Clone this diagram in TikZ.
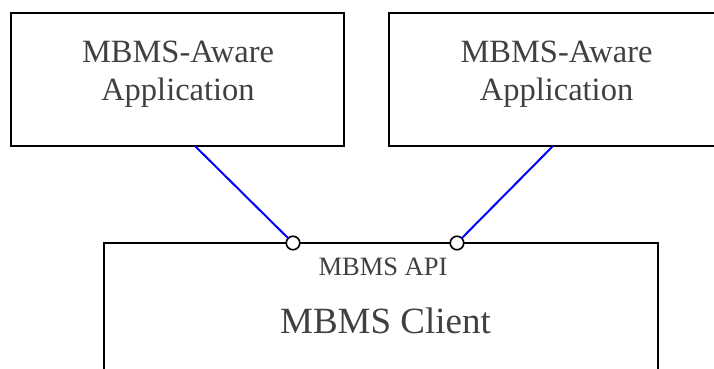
\documentclass[tikz,border=0pt]{standalone}
\usepackage{fontspec}
\setmainfont{Liberation Serif}
\usepackage{tikz}

\definecolor{txtgray}{RGB}{64,64,64}

\begin{document}
\begin{tikzpicture}[x=1pt, y=-1pt,
  every node/.style={outer sep=0pt, inner sep=0pt},
  box/.style={draw=black, line width=1.6pt, fill=none},
  apptext/.style={text=txtgray, align=center, font=\fontsize{32.5}{38}\selectfont},
  port/.style={circle, draw=black, fill=white, line width=1.6pt, minimum size=13.5pt},
  apiline/.style={draw=blue, line width=2pt}]
\useasboundingbox (0,0) rectangle (714,369);
\clip (0,0) rectangle (714,369);

% applications
\node[box, minimum width=333, minimum height=133] (app1) at (177.5,79.5) {};
\node[box, minimum width=333, minimum height=133] (app2) at (555.5,79.5) {};
\node[apptext, anchor=north] (app1txt) at (178,41) {MBMS-Aware\\Application};
\node[apptext, anchor=north] (app2txt) at (556.5,41) {MBMS-Aware\\Application};

% client
\node[box, minimum width=554, minimum height=200] (client) at (381,343) {};
\node[text=txtgray, anchor=base, font=\fontsize{26.5}{31}\selectfont] (api) at (383,275) {MBMS API};
\node[text=txtgray, anchor=base, font=\fontsize{37}{44}\selectfont] (clienttxt) at (385.5,333) {MBMS Client};

% interfaces
\coordinate (tap1) at (195,146);
\coordinate (tap2) at (553,146);
\node[port] (port1) at (293,243) {};
\node[port] (port2) at (457,243) {};
\draw[apiline] (tap1) -- (port1);
\draw[apiline] (tap2) -- (port2);
\end{tikzpicture}
\end{document}
